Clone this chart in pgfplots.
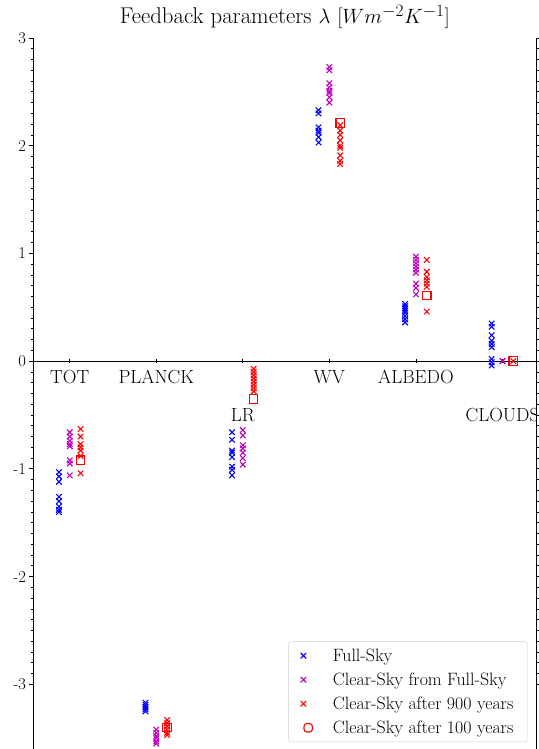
\documentclass[border=0pt]{standalone}
\usepackage{pgfplots}
\pgfplotsset{compat=1.18}
\definecolor{mpblue}{RGB}{0,0,255}
\definecolor{mpmag}{RGB}{191,0,191}
\definecolor{mpred}{RGB}{255,0,0}
\pgfplotsset{
  mk/.style={only marks, mark=x, mark size=3.9pt, color=#1, line width=1.1pt,
    mark options={draw=#1, solid},
    legend image code/.code={\draw[##1] plot coordinates {(11pt,0pt)};}},
}
\tikzset{sq/.style={rectangle, draw=mpred, line width=1.1pt, minimum size=8.5pt, inner sep=0pt, fill=none}}

\begin{document}
\begin{tikzpicture}
\begin{axis}[
  scale only axis, width=504pt, height=711.5pt,
  xmin=-0.425, xmax=5.395, ymin=-3.6, ymax=3,
  axis x line=middle, axis y line=box,
  x axis line style={-, line width=0.9pt},
  y axis line style={line width=0.9pt},
  hide obscured x ticks=false, hide obscured y ticks=false,
  xtick={0,1,2,3,4,5}, xticklabels={},
  xtick style={yshift=1.75pt},
  ytick={-3,-2,-1,0,1,2,3}, yticklabels={-3,-2,-1,0,1,2,3},
  minor y tick num=9,
  tick align=outside, major tick length=3.5pt, minor tick length=2pt,
  tick style={black, line width=0.8pt},
  yticklabel style={font=\fontsize{16.5}{19}\selectfont},
  title={Feedback parameters $\lambda$ $[Wm^{-2}K^{-1}]$},
  title style={font=\fontsize{22.8}{27}\selectfont, at={(0.5,1)}, anchor=base, yshift=8pt},
  legend cell align=left,
  legend style={at={(1,0)}, anchor=south east, xshift=-9pt, yshift=7pt,
    draw=black!20, rounded corners=3pt, row sep=6pt, inner xsep=12pt, inner ysep=5pt,
    nodes={font=\fontsize{17.9}{21}\selectfont}},
]
% Full-Sky
\addplot[mk=mpblue] coordinates {
 (-0.125,-1.03) (-0.125,-1.07) (-0.125,-1.12) (-0.125,-1.26) (-0.125,-1.30) (-0.125,-1.35) (-0.125,-1.38) (-0.125,-1.40)
 (0.875,-3.17) (0.875,-3.19) (0.875,-3.21) (0.875,-3.23) (0.875,-3.25)
 (1.875,-0.66) (1.875,-0.73) (1.875,-0.83) (1.875,-0.85) (1.875,-0.89) (1.875,-0.98) (1.875,-1.01) (1.875,-1.06)
 (2.875,2.33) (2.875,2.30) (2.875,2.17) (2.875,2.14) (2.875,2.12) (2.875,2.08) (2.875,2.03)
 (3.875,0.53) (3.875,0.51) (3.875,0.49) (3.875,0.47) (3.875,0.45) (3.875,0.42) (3.875,0.39) (3.875,0.36)
 (4.875,0.35) (4.875,0.32) (4.875,0.24) (4.875,0.19) (4.875,0.16) (4.875,0.13) (4.875,0.02) (4.875,-0.01) (4.875,-0.04)
};
\addlegendentry{\hspace{18pt}Full-Sky}
% Clear-Sky from Full-Sky
\addplot[mk=mpmag] coordinates {
 (0,-0.66) (0,-0.70) (0,-0.74) (0,-0.77) (0,-0.79) (0,-0.92) (0,-0.95) (0,-1.06)
 (1,-3.42) (1,-3.45) (1,-3.48) (1,-3.50) (1,-3.53) (1,-3.55)
 (2,-0.64) (2,-0.69) (2,-0.78) (2,-0.81) (2,-0.85) (2,-0.90) (2,-0.96)
 (3,2.73) (3,2.70) (3,2.58) (3,2.54) (3,2.51) (3,2.49) (3,2.45) (3,2.40)
 (4,0.97) (4,0.94) (4,0.91) (4,0.88) (4,0.85) (4,0.82) (4,0.72) (4,0.68) (4,0.62)
 (5,0.0) (5,0.0)
};
\addlegendentry{\hspace{18pt}Clear-Sky from Full-Sky}
% Clear-Sky after 900 years
\addplot[mk=mpred] coordinates {
 (0.125,-0.63) (0.125,-0.70) (0.125,-0.77) (0.125,-0.80) (0.125,-0.83) (0.125,-0.88) (0.125,-1.04)
 (1.125,-3.33) (1.125,-3.36) (1.125,-3.39) (1.125,-3.42) (1.125,-3.45) (1.125,-3.47)
 (2.125,-0.07) (2.125,-0.10) (2.125,-0.13) (2.125,-0.16) (2.125,-0.19) (2.125,-0.22) (2.125,-0.25) (2.125,-0.28)
 (3.125,2.19) (3.125,2.14) (3.125,2.10) (3.125,2.05) (3.125,2.00) (3.125,1.98) (3.125,1.91) (3.125,1.86) (3.125,1.83)
 (4.125,0.94) (4.125,0.83) (4.125,0.78) (4.125,0.75) (4.125,0.72) (4.125,0.69) (4.125,0.46)
 (5.125,0.0)
};
\addlegendentry{\hspace{18pt}Clear-Sky after 900 years}
% Clear-Sky after 100 years (open squares, drawn as nodes at the data points)
\addplot[only marks, mark=none, color=mpred, nodes near coords={}, nodes near coords align=center,
  every node near coord/.append style={sq, anchor=center},
  legend image code/.code={\node[sq] at (11pt,0pt) {};}] coordinates {
 (0.125,-0.92) (1.125,-3.40) (2.125,-0.35) (3.125,2.21) (4.125,0.61) (5.125,0.0)
};
\addlegendentry{\hspace{18pt}Clear-Sky after 100 years}

\begin{scope}[font=\fontsize{19}{23}\selectfont]
\node at (axis cs:0,-0.15) {TOT};
\node at (axis cs:1,-0.15) {PLANCK};
\node at (axis cs:2,-0.50) {LR};
\node at (axis cs:3,-0.15) {WV};
\node at (axis cs:4,-0.15) {ALBEDO};
\node at (axis cs:5,-0.50) {CLOUDS};
\end{scope}
\end{axis}
\pgfresetboundingbox
\path[use as bounding box] ([xshift=-33pt]current axis.south west) rectangle ([xshift=2pt,yshift=38pt]current axis.north east);
\end{tikzpicture}
\end{document}
